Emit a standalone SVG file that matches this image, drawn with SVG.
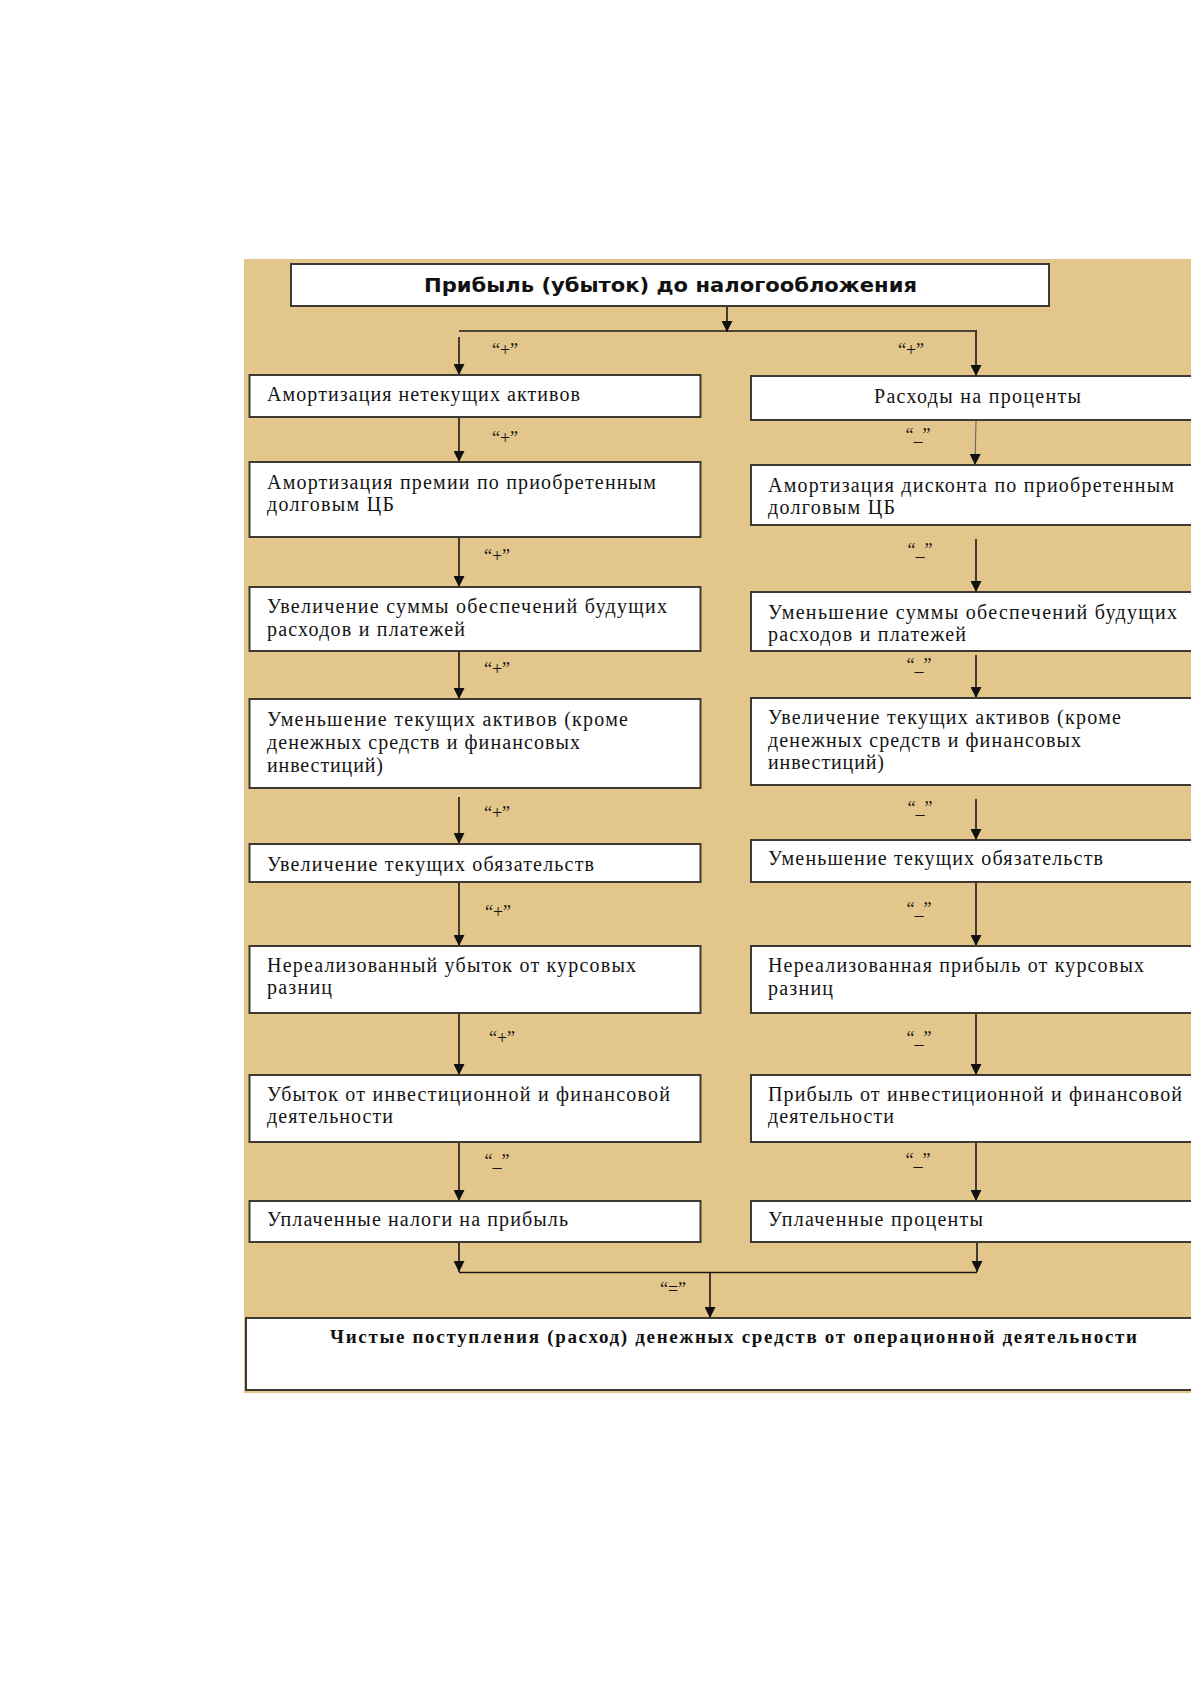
<svg xmlns="http://www.w3.org/2000/svg" width="1191" height="1684" viewBox="0 0 1191 1684">
<defs>
<style>
.bg{fill:#E3C68B}
.box{fill:#FFFFFF;stroke:#3E3A32;stroke-width:2}
.t{font-family:"Liberation Serif","Times New Roman",serif;font-size:20px;fill:#141414}
.lbl{font-family:"Liberation Serif","Times New Roman",serif;font-size:18px;fill:#141414;text-anchor:middle}
.title{font-family:"DejaVu Sans",Verdana,sans-serif;font-size:20px;font-weight:bold;fill:#111111}
.fin{font-family:"Liberation Serif","Times New Roman",serif;font-size:19px;font-weight:bold;fill:#111111}
.c{fill:none;stroke:#1A1A1A;stroke-width:1.6}
.cl{fill:none;stroke:#6E6A62;stroke-width:1.2}
</style>
<marker id="ah" viewBox="0 0 10 10" refX="10" refY="5" markerWidth="11" markerHeight="11" markerUnits="userSpaceOnUse" orient="auto">
<path d="M0,0 L10,5 L0,10 z" fill="#111111"/>
</marker>
</defs>
<rect x="0" y="0" width="1191" height="1684" fill="#FFFFFF"/>
<rect class="bg" x="244" y="259" width="960" height="1134"/>

<g id="connectors">
<line class="c" x1="727" y1="306" x2="727" y2="332" marker-end="url(#ah)"/>
<line class="c" x1="459" y1="331" x2="977" y2="331"/>
<line class="c" x1="459" y1="337" x2="459" y2="375" marker-end="url(#ah)"/>
<line class="c" x1="976" y1="331" x2="976" y2="376" marker-end="url(#ah)"/>
<line class="c" x1="459" y1="417" x2="459" y2="462" marker-end="url(#ah)"/>
<line class="cl" x1="976" y1="420" x2="975" y2="465" marker-end="url(#ah)"/>
<line class="c" x1="459" y1="537" x2="459" y2="587" marker-end="url(#ah)"/>
<line class="c" x1="976" y1="539" x2="976" y2="592" marker-end="url(#ah)"/>
<line class="c" x1="459" y1="651" x2="459" y2="699" marker-end="url(#ah)"/>
<line class="c" x1="976" y1="655" x2="976" y2="698" marker-end="url(#ah)"/>
<line class="c" x1="459" y1="797" x2="459" y2="844" marker-end="url(#ah)"/>
<line class="c" x1="976" y1="799" x2="976" y2="840" marker-end="url(#ah)"/>
<line class="c" x1="459" y1="882" x2="459" y2="946" marker-end="url(#ah)"/>
<line class="c" x1="976" y1="882" x2="976" y2="946" marker-end="url(#ah)"/>
<line class="c" x1="459" y1="1013" x2="459" y2="1075" marker-end="url(#ah)"/>
<line class="c" x1="976" y1="1013" x2="976" y2="1075" marker-end="url(#ah)"/>
<line class="c" x1="459" y1="1142" x2="459" y2="1201" marker-end="url(#ah)"/>
<line class="c" x1="976" y1="1142" x2="976" y2="1201" marker-end="url(#ah)"/>
<line class="c" x1="459" y1="1242" x2="459" y2="1272" marker-end="url(#ah)"/>
<line class="c" x1="977" y1="1242" x2="977" y2="1272" marker-end="url(#ah)"/>
<line class="c" x1="459" y1="1272.5" x2="977" y2="1272.5"/>
<line class="c" x1="710" y1="1272" x2="710" y2="1318" marker-end="url(#ah)"/>
<text class="lbl" x="505" y="356">“+”</text>
<text class="lbl" x="911" y="356">“+”</text>
<text class="lbl" x="505" y="444">“+”</text>
<text class="lbl" x="918" y="441">“_”</text>
<text class="lbl" x="497" y="562">“+”</text>
<text class="lbl" x="920" y="556">“_”</text>
<text class="lbl" x="497" y="675">“+”</text>
<text class="lbl" x="919" y="671">“_”</text>
<text class="lbl" x="497" y="819">“+”</text>
<text class="lbl" x="920" y="814">“_”</text>
<text class="lbl" x="498" y="918">“+”</text>
<text class="lbl" x="919" y="915">“_”</text>
<text class="lbl" x="502" y="1044">“+”</text>
<text class="lbl" x="919" y="1044">“_”</text>
<text class="lbl" x="497" y="1167">“_”</text>
<text class="lbl" x="918" y="1166">“_”</text>
<text class="lbl" x="673" y="1295">“=”</text>
</g>

<g id="title">
<rect class="box" x="291" y="264" width="758" height="42"/>
<text class="title" x="424" y="292" textLength="493" lengthAdjust="spacingAndGlyphs">Прибыль (убыток) до налогообложения</text>
</g>

<g id="L1">
<rect class="box" x="249.5" y="375" width="451" height="42"/>
<text class="t" x="267" y="401" textLength="313">Амортизация нетекущих активов</text>
</g>
<g id="L2">
<rect class="box" x="249.5" y="462" width="451" height="75"/>
<text class="t" x="267" y="489" textLength="389">Амортизация премии по приобретенным</text>
<text class="t" x="267" y="511" textLength="127">долговым ЦБ</text>
</g>
<g id="L3">
<rect class="box" x="249.5" y="587" width="451" height="64"/>
<text class="t" x="267" y="613" textLength="400">Увеличение суммы обеспечений будущих</text>
<text class="t" x="267" y="636" textLength="198">расходов и платежей</text>
</g>
<g id="L4">
<rect class="box" x="249.5" y="699" width="451" height="89"/>
<text class="t" x="267" y="726" textLength="361">Уменьшение текущих активов (кроме</text>
<text class="t" x="267" y="749" textLength="313">денежных средств и финансовых</text>
<text class="t" x="267" y="772" textLength="116">инвестиций)</text>
</g>
<g id="L5">
<rect class="box" x="249.5" y="844" width="451" height="38"/>
<text class="t" x="267" y="871" textLength="327">Увеличение текущих обязательств</text>
</g>
<g id="L6">
<rect class="box" x="249.5" y="946" width="451" height="67"/>
<text class="t" x="267" y="972" textLength="369">Нереализованный убыток от курсовых</text>
<text class="t" x="267" y="994" textLength="65">разниц</text>
</g>
<g id="L7">
<rect class="box" x="249.5" y="1075" width="451" height="67"/>
<text class="t" x="267" y="1101" textLength="403">Убыток от инвестиционной и финансовой</text>
<text class="t" x="267" y="1123" textLength="126">деятельности</text>
</g>
<g id="L8">
<rect class="box" x="249.5" y="1201" width="451" height="41"/>
<text class="t" x="267" y="1226" textLength="301">Уплаченные налоги на прибыль</text>
</g>

<g id="R1">
<rect class="box" x="751" y="376" width="460" height="44"/>
<text class="t" x="874" y="403" textLength="207">Расходы на проценты</text>
</g>
<g id="R2">
<rect class="box" x="751" y="465" width="460" height="60"/>
<text class="t" x="768" y="492" textLength="406">Амортизация дисконта по приобретенным</text>
<text class="t" x="768" y="514" textLength="127">долговым ЦБ</text>
</g>
<g id="R3">
<rect class="box" x="751" y="592" width="460" height="59"/>
<text class="t" x="768" y="619" textLength="409">Уменьшение суммы обеспечений будущих</text>
<text class="t" x="768" y="641" textLength="198">расходов и платежей</text>
</g>
<g id="R4">
<rect class="box" x="751" y="698" width="460" height="87"/>
<text class="t" x="768" y="724" textLength="353">Увеличение текущих активов (кроме</text>
<text class="t" x="768" y="747" textLength="313">денежных средств и финансовых</text>
<text class="t" x="768" y="769" textLength="116">инвестиций)</text>
</g>
<g id="R5">
<rect class="box" x="751" y="840" width="460" height="42"/>
<text class="t" x="768" y="865" textLength="335">Уменьшение текущих обязательств</text>
</g>
<g id="R6">
<rect class="box" x="751" y="946" width="460" height="67"/>
<text class="t" x="768" y="972" textLength="376">Нереализованная прибыль от курсовых</text>
<text class="t" x="768" y="995" textLength="65">разниц</text>
</g>
<g id="R7">
<rect class="box" x="751" y="1075" width="460" height="67"/>
<text class="t" x="768" y="1101" textLength="414">Прибыль от инвестиционной и финансовой</text>
<text class="t" x="768" y="1123" textLength="126">деятельности</text>
</g>
<g id="R8">
<rect class="box" x="751" y="1201" width="460" height="41"/>
<text class="t" x="768" y="1226" textLength="215">Уплаченные проценты</text>
</g>

<g id="result">
<rect class="box" x="246" y="1318" width="965" height="72"/>
<text class="fin" x="330" y="1343" textLength="807">Чистые поступления (расход) денежных средств от операционной деятельности</text>
</g>
</svg>
